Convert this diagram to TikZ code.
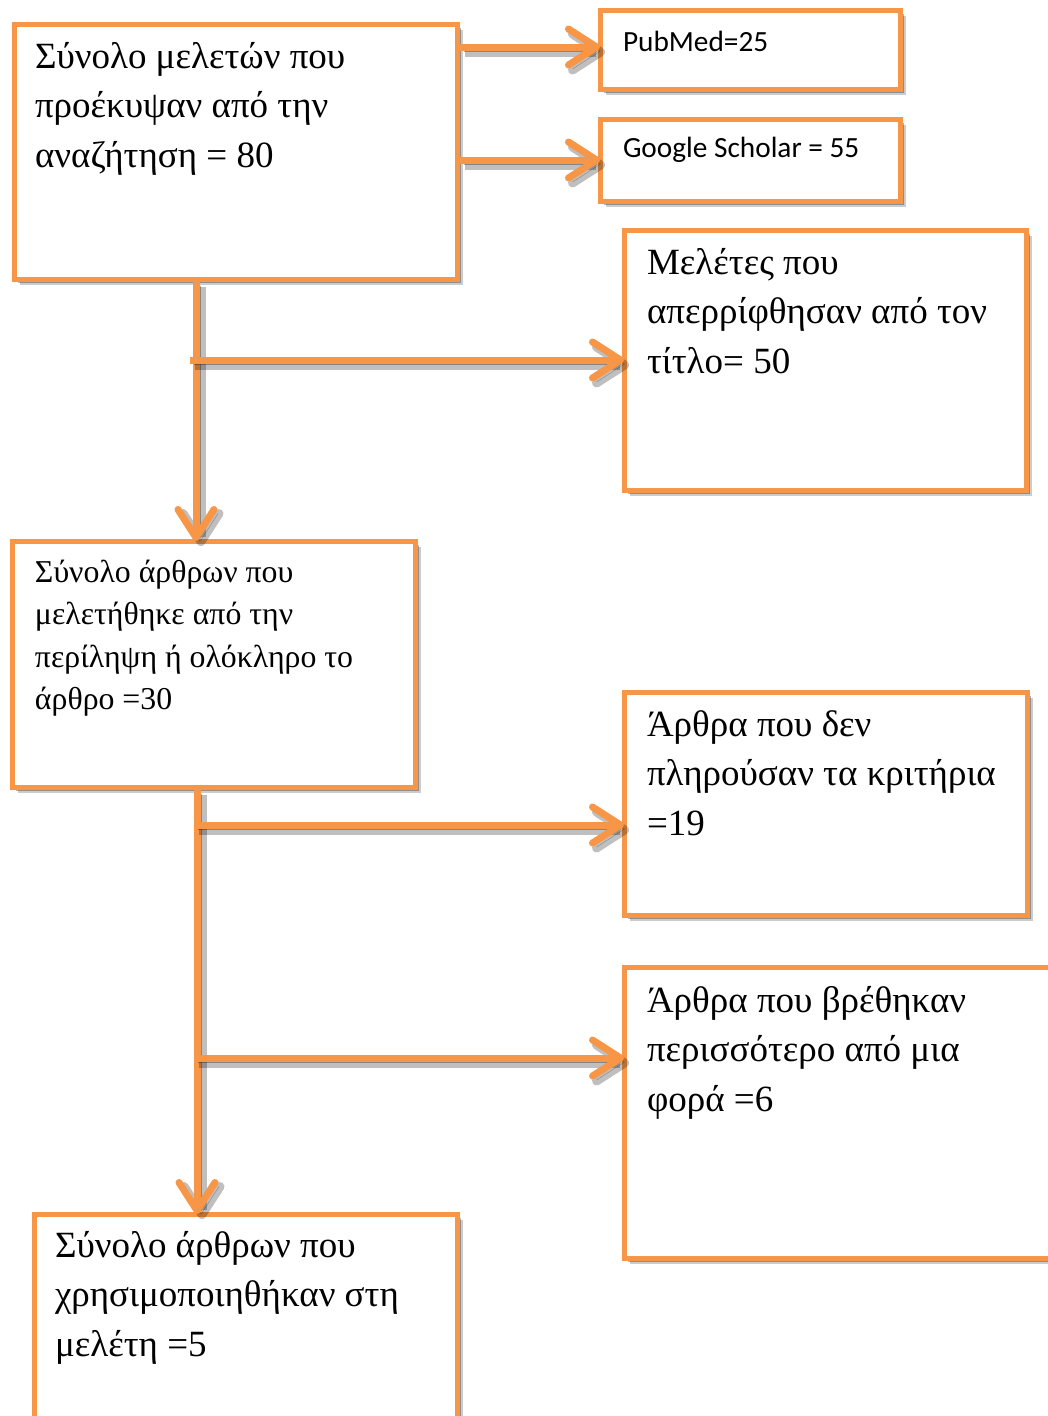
\documentclass[tikz,border=0pt]{standalone}
\usepackage{fontspec}
\setmainfont{Liberation Serif}
\newfontfamily\calfont{Carlito}
\usetikzlibrary{arrows.meta,shadows,calc}
\definecolor{orng}{HTML}{F79646}
\newcommand\boxtext[5]{\parbox[c][#2][t]{#1}{\leftskip=#3\relax\rightskip=0pt plus 1fil\parindent=0pt\rule{0pt}{#4}#5}}
\tikzset{
  fbox/.style={draw=orng, line width=5pt, fill=white, inner sep=0pt, outer sep=0pt, anchor=north west,
    drop shadow={shadow xshift=6pt, shadow yshift=-6pt, opacity=0.2, fill=black},
    drop shadow={shadow xshift=4pt, shadow yshift=-4pt, opacity=0.3, fill=black}},
  big/.style={font=\fontsize{37}{49.5}\selectfont},
  mid/.style={font=\fontsize{31.8}{42.5}\selectfont},
  sml/.style={font=\calfont\fontsize{29.3}{34}\selectfont},
  arr/.style={draw=orng, line width=7pt, line cap=butt,
    -{Straight Barb[length=28pt, width=36pt, line cap=round, line join=round]},
    preaction={draw=black, opacity=0.25, line width=9pt, transform canvas={shift={(5pt,-5pt)}}},
    preaction={draw=black, opacity=0.3, transform canvas={shift={(4pt,-4pt)}}}}
}
\begin{document}
\begin{tikzpicture}[x=1pt,y=-1pt]
\useasboundingbox (0,0) rectangle (1047,1416);
\fill[white] (0,0) rectangle (1047,1416);
% boxes
\node[fbox, big] (b1) at (14,24) {\boxtext{443pt}{255pt}{21pt}{44pt}{Σύνολο μελετών που\\προέκυψαν από την\\αναζήτηση = 80}};
\node[fbox, sml] (pm) at (600,10) {\boxtext{300pt}{79pt}{23pt}{41pt}{PubMed=25}};
\node[fbox, sml] (gs) at (600,119) {\boxtext{300pt}{82pt}{23pt}{38pt}{Google Scholar = 55}};
\node[fbox, big] (b3) at (624,230) {\boxtext{402pt}{260pt}{23pt}{44pt}{Μελέτες που\\απερρίφθησαν από τον\\τίτλο= 50}};
\node[fbox, mid] (b2) at (12,541) {\boxtext{403pt}{246pt}{23pt}{41pt}{Σύνολο άρθρων που\\μελετήθηκε από την\\περίληψη ή ολόκληρο το\\άρθρο =30}};
\node[fbox, big] (b4) at (624,692) {\boxtext{403pt}{223pt}{23pt}{44pt}{Άρθρα που δεν\\πληρούσαν τα κριτήρια\\=19}};
\node[fbox, big] (b5) at (624,967) {\boxtext{450pt}{291pt}{23pt}{45pt}{Άρθρα που βρέθηκαν\\περισσότερο από μια\\φορά =6}};
\node[fbox, big] (b6) at (34,1214) {\boxtext{423pt}{240pt}{21pt}{43pt}{Σύνολο άρθρων που\\χρησιμοποιηθήκαν στη\\μελέτη =5}};
% connectors
\coordinate (s1) at ($(b1.north east)+(2.5,23)$);
\coordinate (s2) at ($(b1.north east)+(2.5,136)$);
\draw[arr] (s1) -- (s1 -| pm.west);
\draw[arr] (s2) -- (s2 -| gs.west);
\coordinate (v1) at ($(b1.south west)+(182,2.5)$);
\draw[arr] (v1) -- (v1 |- b2.north);
\coordinate (j1) at (190,360);
\draw[arr] (j1) -- (j1 -| b3.west);
\coordinate (v2) at ($(b2.south west)+(185,2.5)$);
\draw[arr] (v2) -- (v2 |- b6.north);
\coordinate (j2) at (194,825);
\draw[arr] (j2) -- (j2 -| b4.west);
\coordinate (j3) at (194,1058);
\draw[arr] (j3) -- (j3 -| b5.west);
\end{tikzpicture}
\end{document}
